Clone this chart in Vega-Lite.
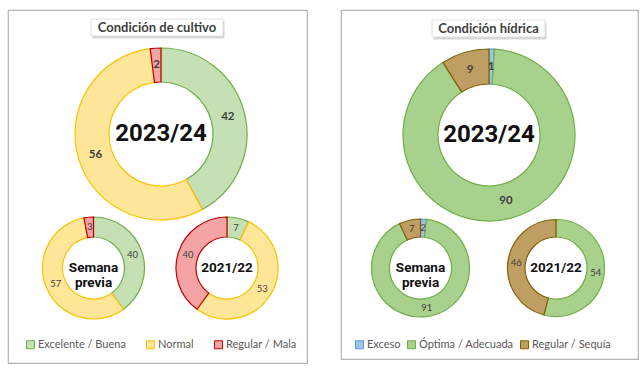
{
  "$schema": "https://vega.github.io/schema/vega-lite/v6.json",
  "background": "white",
  "padding": {"left": 7, "top": 9, "right": 0, "bottom": 0},
  "spacing": 32,
  "datasets": {
    "cultivo": [
      {"periodo": "2023/24", "categoria": "Excelente / Buena", "orden": 1, "valor": 42},
      {"periodo": "2023/24", "categoria": "Normal", "orden": 2, "valor": 56},
      {"periodo": "2023/24", "categoria": "Regular / Mala", "orden": 3, "valor": 2},
      {"periodo": "Semana previa", "categoria": "Excelente / Buena", "orden": 1, "valor": 40},
      {"periodo": "Semana previa", "categoria": "Normal", "orden": 2, "valor": 57},
      {"periodo": "Semana previa", "categoria": "Regular / Mala", "orden": 3, "valor": 3},
      {"periodo": "2021/22", "categoria": "Excelente / Buena", "orden": 1, "valor": 7},
      {"periodo": "2021/22", "categoria": "Normal", "orden": 2, "valor": 53},
      {"periodo": "2021/22", "categoria": "Regular / Mala", "orden": 3, "valor": 40}
    ],
    "hidrica": [
      {"periodo": "2023/24", "categoria": "Exceso", "orden": 1, "valor": 1},
      {"periodo": "2023/24", "categoria": "Óptima / Adecuada", "orden": 2, "valor": 90},
      {"periodo": "2023/24", "categoria": "Regular / Sequía", "orden": 3, "valor": 9},
      {"periodo": "Semana previa", "categoria": "Exceso", "orden": 1, "valor": 2},
      {"periodo": "Semana previa", "categoria": "Óptima / Adecuada", "orden": 2, "valor": 91},
      {"periodo": "Semana previa", "categoria": "Regular / Sequía", "orden": 3, "valor": 7},
      {"periodo": "2021/22", "categoria": "Exceso", "orden": 1, "valor": 0},
      {"periodo": "2021/22", "categoria": "Óptima / Adecuada", "orden": 2, "valor": 54},
      {"periodo": "2021/22", "categoria": "Regular / Sequía", "orden": 3, "valor": 46}
    ]
  },
  "resolve": {
    "scale": {"color": "independent", "stroke": "independent", "theta": "independent"},
    "legend": {"color": "independent", "stroke": "independent"}
  },
  "hconcat": [
    {
      "width": 299,
      "height": 353,
      "resolve": {"scale": {"x": "independent", "y": "independent"}},
      "layer": [
        {
          "data": {"values": [{"titulo": "Condición de cultivo"}]},
          "encoding": {
            "x": {"field": "titulo", "type": "nominal", "axis": null, "scale": {"type": "band", "range": [83, 215], "paddingInner": 0, "paddingOuter": 0}},
            "y": {"field": "titulo", "type": "nominal", "axis": null, "scale": {"type": "band", "range": [9, 26], "paddingInner": 0, "paddingOuter": 0}}
          },
          "layer": [
            {"mark": {"type": "rect", "fill": "#8C8C8C", "opacity": 0.35, "xOffset": 1.5, "yOffset": 2.5}},
            {"mark": {"type": "rect", "fill": "white", "stroke": "#D9D9D9", "strokeWidth": 0.8}},
            {"mark": {"type": "text", "font": "Lato", "fontWeight": "bold", "fontSize": 13, "color": "#404040"}, "encoding": {"text": {"field": "titulo", "type": "nominal"}}}
          ]
        },
        {
          "data": {"name": "cultivo"},
          "transform": [{"filter": "datum.periodo == '2023/24'"}],
          "encoding": {
            "x": {"field": "periodo", "type": "nominal", "axis": null, "scale": {"type": "point", "domain": ["2023/24"], "range": [153, 153]}},
            "y": {"field": "periodo", "type": "nominal", "axis": null, "scale": {"type": "point", "domain": ["2023/24"], "range": [124, 124]}}
          },
          "layer": [
            {
              "transform": [{"filter": "datum.valor > 0"}],
              "mark": {"type": "arc", "outerRadius": 86, "innerRadius": 52, "strokeWidth": 1.2},
              "encoding": {
                "theta": {"field": "valor", "type": "quantitative", "stack": true},
                "order": {"field": "orden", "type": "quantitative"},
                "color": {"field": "categoria", "type": "nominal",
                  "scale": {"domain": ["Excelente / Buena", "Normal", "Regular / Mala"], "range": ["#C5E0B4", "#FFE699", "#F4A4A4"]},
                  "legend": {"title": null, "orient": "none", "legendX": 17, "legendY": 329, "direction": "horizontal", "columns": 3, "columnPadding": 18, "symbolType": "square", "symbolSize": 64, "symbolStrokeWidth": 1, "labelFont": "Lato", "labelFontSize": 11, "labelColor": "#595959", "labelOffset": 2, "padding": 0}},
                "stroke": {"field": "categoria", "type": "nominal",
                  "scale": {"domain": ["Excelente / Buena", "Normal", "Regular / Mala"], "range": ["#70AD47", "#FFC000", "#C00000"]},
                  "legend": {"title": null, "orient": "none", "legendX": 17, "legendY": 329, "direction": "horizontal", "columns": 3, "columnPadding": 18, "symbolType": "square", "symbolSize": 64, "symbolStrokeWidth": 1, "labelFont": "Lato", "labelFontSize": 11, "labelColor": "#595959", "labelOffset": 2, "padding": 0}}
              }
            },
            {
              "transform": [{"filter": "datum.valor > 0"}],
              "mark": {"type": "text", "radius": 69, "font": "Lato", "fontWeight": "bold", "fontSize": 11.5, "color": "#404040"},
              "encoding": {
                "theta": {"field": "valor", "type": "quantitative", "stack": true},
                "order": {"field": "orden", "type": "quantitative"},
                "detail": {"field": "categoria", "type": "nominal"},
                "text": {"field": "valor", "type": "quantitative"}
              }
            },
            {
              "transform": [{"filter": "datum.orden == 1"}],
              "mark": {"type": "text", "font": "Roboto", "fontWeight": "bold", "fontSize": 24, "color": "#111111"},
              "encoding": {"text": {"field": "periodo", "type": "nominal"}}
            }
          ]
        },
        {
          "data": {"name": "cultivo"},
          "transform": [{"filter": "datum.periodo == 'Semana previa'"}],
          "encoding": {
            "x": {"field": "periodo", "type": "nominal", "axis": null, "scale": {"type": "point", "domain": ["Semana previa"], "range": [85.5, 85.5]}},
            "y": {"field": "periodo", "type": "nominal", "axis": null, "scale": {"type": "point", "domain": ["Semana previa"], "range": [258, 258]}}
          },
          "layer": [
            {
              "transform": [{"filter": "datum.valor > 0"}],
              "mark": {"type": "arc", "outerRadius": 51, "innerRadius": 31, "strokeWidth": 1.2},
              "encoding": {
                "theta": {"field": "valor", "type": "quantitative", "stack": true},
                "order": {"field": "orden", "type": "quantitative"},
                "color": {"field": "categoria", "type": "nominal", "scale": {"domain": ["Excelente / Buena", "Normal", "Regular / Mala"], "range": ["#C5E0B4", "#FFE699", "#F4A4A4"]}},
                "stroke": {"field": "categoria", "type": "nominal", "scale": {"domain": ["Excelente / Buena", "Normal", "Regular / Mala"], "range": ["#70AD47", "#FFC000", "#C00000"]}}
              }
            },
            {
              "transform": [{"filter": "datum.valor > 0"}],
              "mark": {"type": "text", "radius": 41, "font": "Lato", "fontSize": 9.5, "color": "#404040"},
              "encoding": {
                "theta": {"field": "valor", "type": "quantitative", "stack": true},
                "order": {"field": "orden", "type": "quantitative"},
                "detail": {"field": "categoria", "type": "nominal"},
                "text": {"field": "valor", "type": "quantitative"}
              }
            },
            {
              "transform": [{"filter": "datum.orden == 1"}],
              "mark": {"type": "text", "font": "Roboto", "fontWeight": "bold", "fontSize": 13.5, "lineBreak": " ", "lineHeight": 15, "color": "#111111"},
              "encoding": {"text": {"field": "periodo", "type": "nominal"}}
            }
          ]
        },
        {
          "data": {"name": "cultivo"},
          "transform": [{"filter": "datum.periodo == '2021/22'"}],
          "encoding": {
            "x": {"field": "periodo", "type": "nominal", "axis": null, "scale": {"type": "point", "domain": ["2021/22"], "range": [219, 219]}},
            "y": {"field": "periodo", "type": "nominal", "axis": null, "scale": {"type": "point", "domain": ["2021/22"], "range": [258, 258]}}
          },
          "layer": [
            {
              "transform": [{"filter": "datum.valor > 0"}],
              "mark": {"type": "arc", "outerRadius": 51, "innerRadius": 31, "strokeWidth": 1.2},
              "encoding": {
                "theta": {"field": "valor", "type": "quantitative", "stack": true},
                "order": {"field": "orden", "type": "quantitative"},
                "color": {"field": "categoria", "type": "nominal", "scale": {"domain": ["Excelente / Buena", "Normal", "Regular / Mala"], "range": ["#C5E0B4", "#FFE699", "#F4A4A4"]}},
                "stroke": {"field": "categoria", "type": "nominal", "scale": {"domain": ["Excelente / Buena", "Normal", "Regular / Mala"], "range": ["#70AD47", "#FFC000", "#C00000"]}}
              }
            },
            {
              "transform": [{"filter": "datum.valor > 0"}],
              "mark": {"type": "text", "radius": 41, "font": "Lato", "fontSize": 9.5, "color": "#404040"},
              "encoding": {
                "theta": {"field": "valor", "type": "quantitative", "stack": true},
                "order": {"field": "orden", "type": "quantitative"},
                "detail": {"field": "categoria", "type": "nominal"},
                "text": {"field": "valor", "type": "quantitative"}
              }
            },
            {
              "transform": [{"filter": "datum.orden == 1"}],
              "mark": {"type": "text", "font": "Roboto", "fontWeight": "bold", "fontSize": 13.5, "color": "#111111"},
              "encoding": {"text": {"field": "periodo", "type": "nominal"}}
            }
          ]
        }
      ]
    },
    {
      "width": 297,
      "height": 349,
      "resolve": {"scale": {"x": "independent", "y": "independent"}},
      "layer": [
        {
          "data": {"values": [{"titulo": "Condición hídrica"}]},
          "encoding": {
            "x": {"field": "titulo", "type": "nominal", "axis": null, "scale": {"type": "band", "range": [91, 204], "paddingInner": 0, "paddingOuter": 0}},
            "y": {"field": "titulo", "type": "nominal", "axis": null, "scale": {"type": "band", "range": [10, 27], "paddingInner": 0, "paddingOuter": 0}}
          },
          "layer": [
            {"mark": {"type": "rect", "fill": "#8C8C8C", "opacity": 0.35, "xOffset": 1.5, "yOffset": 2.5}},
            {"mark": {"type": "rect", "fill": "white", "stroke": "#D9D9D9", "strokeWidth": 0.8}},
            {"mark": {"type": "text", "font": "Lato", "fontWeight": "bold", "fontSize": 13, "color": "#404040"}, "encoding": {"text": {"field": "titulo", "type": "nominal"}}}
          ]
        },
        {
          "data": {"name": "hidrica"},
          "transform": [{"filter": "datum.periodo == '2023/24'"}],
          "encoding": {
            "x": {"field": "periodo", "type": "nominal", "axis": null, "scale": {"type": "point", "domain": ["2023/24"], "range": [148, 148]}},
            "y": {"field": "periodo", "type": "nominal", "axis": null, "scale": {"type": "point", "domain": ["2023/24"], "range": [125, 125]}}
          },
          "layer": [
            {
              "transform": [{"filter": "datum.valor > 0"}],
              "mark": {"type": "arc", "outerRadius": 86, "innerRadius": 51, "strokeWidth": 1.2},
              "encoding": {
                "theta": {"field": "valor", "type": "quantitative", "stack": true},
                "order": {"field": "orden", "type": "quantitative"},
                "color": {"field": "categoria", "type": "nominal",
                  "scale": {"domain": ["Exceso", "Óptima / Adecuada", "Regular / Sequía"], "range": ["#9DC3E6", "#A9D18E", "#BF9E63"]},
                  "legend": {"title": null, "orient": "none", "legendX": 13, "legendY": 329, "direction": "horizontal", "columns": 3, "columnPadding": 4, "symbolType": "square", "symbolSize": 64, "symbolStrokeWidth": 1, "labelFont": "Lato", "labelFontSize": 11, "labelColor": "#595959", "labelOffset": 2, "padding": 0}},
                "stroke": {"field": "categoria", "type": "nominal",
                  "scale": {"domain": ["Exceso", "Óptima / Adecuada", "Regular / Sequía"], "range": ["#5B9BD5", "#70AD47", "#7F6000"]},
                  "legend": {"title": null, "orient": "none", "legendX": 13, "legendY": 329, "direction": "horizontal", "columns": 3, "columnPadding": 4, "symbolType": "square", "symbolSize": 64, "symbolStrokeWidth": 1, "labelFont": "Lato", "labelFontSize": 11, "labelColor": "#595959", "labelOffset": 2, "padding": 0}}
              }
            },
            {
              "transform": [{"filter": "datum.valor > 0"}],
              "mark": {"type": "text", "radius": 68, "font": "Lato", "fontWeight": "bold", "fontSize": 11.5, "color": "#404040"},
              "encoding": {
                "theta": {"field": "valor", "type": "quantitative", "stack": true},
                "order": {"field": "orden", "type": "quantitative"},
                "detail": {"field": "categoria", "type": "nominal"},
                "text": {"field": "valor", "type": "quantitative"}
              }
            },
            {
              "transform": [{"filter": "datum.orden == 1"}],
              "mark": {"type": "text", "font": "Roboto", "fontWeight": "bold", "fontSize": 24, "color": "#111111"},
              "encoding": {"text": {"field": "periodo", "type": "nominal"}}
            }
          ]
        },
        {
          "data": {"name": "hidrica"},
          "transform": [{"filter": "datum.periodo == 'Semana previa'"}],
          "encoding": {
            "x": {"field": "periodo", "type": "nominal", "axis": null, "scale": {"type": "point", "domain": ["Semana previa"], "range": [79.5, 79.5]}},
            "y": {"field": "periodo", "type": "nominal", "axis": null, "scale": {"type": "point", "domain": ["Semana previa"], "range": [258, 258]}}
          },
          "layer": [
            {
              "transform": [{"filter": "datum.valor > 0"}],
              "mark": {"type": "arc", "outerRadius": 49, "innerRadius": 31, "strokeWidth": 1.2},
              "encoding": {
                "theta": {"field": "valor", "type": "quantitative", "stack": true},
                "order": {"field": "orden", "type": "quantitative"},
                "color": {"field": "categoria", "type": "nominal", "scale": {"domain": ["Exceso", "Óptima / Adecuada", "Regular / Sequía"], "range": ["#9DC3E6", "#A9D18E", "#BF9E63"]}},
                "stroke": {"field": "categoria", "type": "nominal", "scale": {"domain": ["Exceso", "Óptima / Adecuada", "Regular / Sequía"], "range": ["#5B9BD5", "#70AD47", "#7F6000"]}}
              }
            },
            {
              "transform": [{"filter": "datum.valor > 0"}],
              "mark": {"type": "text", "radius": 40, "font": "Lato", "fontSize": 9.5, "color": "#404040"},
              "encoding": {
                "theta": {"field": "valor", "type": "quantitative", "stack": true},
                "order": {"field": "orden", "type": "quantitative"},
                "detail": {"field": "categoria", "type": "nominal"},
                "text": {"field": "valor", "type": "quantitative"}
              }
            },
            {
              "transform": [{"filter": "datum.orden == 1"}],
              "mark": {"type": "text", "font": "Roboto", "fontWeight": "bold", "fontSize": 13.5, "lineBreak": " ", "lineHeight": 15, "color": "#111111"},
              "encoding": {"text": {"field": "periodo", "type": "nominal"}}
            }
          ]
        },
        {
          "data": {"name": "hidrica"},
          "transform": [{"filter": "datum.periodo == '2021/22'"}],
          "encoding": {
            "x": {"field": "periodo", "type": "nominal", "axis": null, "scale": {"type": "point", "domain": ["2021/22"], "range": [215, 215]}},
            "y": {"field": "periodo", "type": "nominal", "axis": null, "scale": {"type": "point", "domain": ["2021/22"], "range": [258, 258]}}
          },
          "layer": [
            {
              "transform": [{"filter": "datum.valor > 0"}],
              "mark": {"type": "arc", "outerRadius": 48.5, "innerRadius": 31, "strokeWidth": 1.2},
              "encoding": {
                "theta": {"field": "valor", "type": "quantitative", "stack": true},
                "order": {"field": "orden", "type": "quantitative"},
                "color": {"field": "categoria", "type": "nominal", "scale": {"domain": ["Exceso", "Óptima / Adecuada", "Regular / Sequía"], "range": ["#9DC3E6", "#A9D18E", "#BF9E63"]}},
                "stroke": {"field": "categoria", "type": "nominal", "scale": {"domain": ["Exceso", "Óptima / Adecuada", "Regular / Sequía"], "range": ["#5B9BD5", "#70AD47", "#7F6000"]}}
              }
            },
            {
              "transform": [{"filter": "datum.valor > 0"}],
              "mark": {"type": "text", "radius": 40, "font": "Lato", "fontSize": 9.5, "color": "#404040"},
              "encoding": {
                "theta": {"field": "valor", "type": "quantitative", "stack": true},
                "order": {"field": "orden", "type": "quantitative"},
                "detail": {"field": "categoria", "type": "nominal"},
                "text": {"field": "valor", "type": "quantitative"}
              }
            },
            {
              "transform": [{"filter": "datum.orden == 1"}],
              "mark": {"type": "text", "font": "Roboto", "fontWeight": "bold", "fontSize": 13.5, "color": "#111111"},
              "encoding": {"text": {"field": "periodo", "type": "nominal"}}
            }
          ]
        }
      ]
    }
  ],
  "config": {
    "view": {"stroke": "#B3B3B3", "strokeWidth": 1.2},
    "font": "Lato"
  }
}
